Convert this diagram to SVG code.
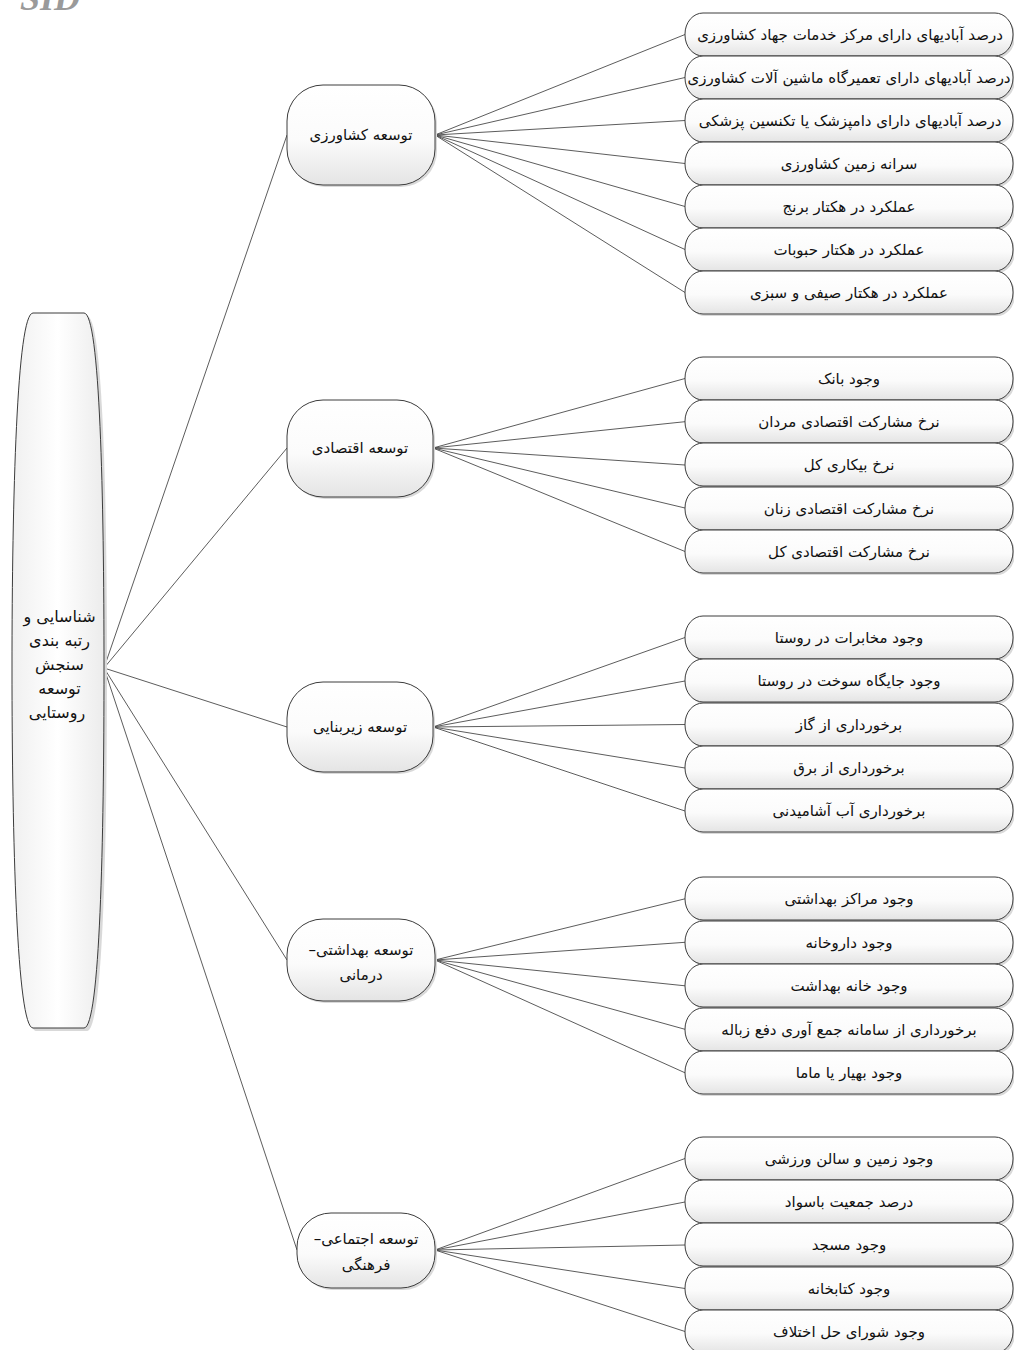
<svg xmlns="http://www.w3.org/2000/svg" width="1014" height="1350" viewBox="0 0 1014 1350">
<defs>
<linearGradient id="g" x1="0" y1="0" x2="0" y2="1">
<stop offset="0" stop-color="#ffffff"/>
<stop offset="0.55" stop-color="#fbfbfb"/>
<stop offset="1" stop-color="#e4e4e4"/>
</linearGradient>
<linearGradient id="gr" x1="0" y1="0" x2="1" y2="0">
<stop offset="0" stop-color="#f0f0f0"/>
<stop offset="0.5" stop-color="#ffffff"/>
<stop offset="1" stop-color="#ececec"/>
</linearGradient>
</defs>
<style>
.box{fill:url(#g);stroke:#3c3c3c;stroke-width:1}
.sh{fill:#d9d9d9;stroke:none}
.t{font-family:'DejaVu Sans',sans-serif;font-size:15px;fill:#111;text-anchor:middle;direction:rtl}
.c{stroke:#4a4a4a;stroke-width:0.9;fill:none}
</style>
<rect width="1014" height="1350" fill="#ffffff"/>
<text x="20" y="10" font-family="'Liberation Serif',serif" font-size="36" font-style="italic" font-weight="bold" fill="#9a9a9a">SID</text>

<g id="connectors">
<g class="c">
<line x1="104" y1="668" x2="287" y2="135"/>
<line x1="104" y1="668" x2="287" y2="448"/>
<line x1="104" y1="668" x2="287" y2="727"/>
<line x1="104" y1="668" x2="287" y2="960"/>
<line x1="104" y1="668" x2="297" y2="1250"/>
<line x1="435" y1="135" x2="685" y2="34.5"/>
<line x1="435" y1="135" x2="685" y2="77.5"/>
<line x1="435" y1="135" x2="685" y2="120.5"/>
<line x1="435" y1="135" x2="685" y2="163.5"/>
<line x1="435" y1="135" x2="685" y2="206.5"/>
<line x1="435" y1="135" x2="685" y2="249.5"/>
<line x1="435" y1="135" x2="685" y2="292.5"/>
<line x1="433" y1="448" x2="685" y2="378.5"/>
<line x1="433" y1="448" x2="685" y2="421.7"/>
<line x1="433" y1="448" x2="685" y2="465"/>
<line x1="433" y1="448" x2="685" y2="508"/>
<line x1="433" y1="448" x2="685" y2="551.5"/>
<line x1="433" y1="727" x2="685" y2="637.5"/>
<line x1="433" y1="727" x2="685" y2="681"/>
<line x1="433" y1="727" x2="685" y2="724.5"/>
<line x1="433" y1="727" x2="685" y2="768"/>
<line x1="433" y1="727" x2="685" y2="811"/>
<line x1="435" y1="960" x2="685" y2="898.8"/>
<line x1="435" y1="960" x2="685" y2="942.3"/>
<line x1="435" y1="960" x2="685" y2="985.8"/>
<line x1="435" y1="960" x2="685" y2="1029.3"/>
<line x1="435" y1="960" x2="685" y2="1072.8"/>
<line x1="435" y1="1250" x2="685" y2="1158.5"/>
<line x1="435" y1="1250" x2="685" y2="1202"/>
<line x1="435" y1="1250" x2="685" y2="1245"/>
<line x1="435" y1="1250" x2="685" y2="1288.5"/>
<line x1="435" y1="1250" x2="685" y2="1331.5"/>
</g>
</g>

<g id="root">
<path class="sh" d="M36,316 H87 C103,316 107,500 107,671 C107,843 103,1031 87,1031 H36 C20,1031 15,843 15,671 C15,500 20,316 36,316 Z"/>
<path class="box" style="fill:url(#gr)" d="M33,313 H84 C100,313 104,497 104,668 C104,840 100,1028 84,1028 H33 C17,1028 12,840 12,668 C12,497 17,313 33,313 Z"/>
<text class="t" style="font-size:16px">
<tspan x="57" y="622">شناسایی و</tspan>
<tspan x="57" y="646">رتبه بندی</tspan>
<tspan x="57" y="670">سنجش</tspan>
<tspan x="57" y="694">توسعه</tspan>
<tspan x="57" y="718">روستایی</tspan>
</text>
</g>

<g id="cat1"><rect class="sh" x="289" y="87" width="148" height="100" rx="36" ry="36"/><rect class="box" x="287" y="85" width="148" height="100" rx="36" ry="36"/><text class="t" x="361" y="140">توسعه کشاورزی</text></g>
<g id="cat2"><rect class="sh" x="289" y="402" width="146" height="97" rx="36" ry="36"/><rect class="box" x="287" y="400" width="146" height="97" rx="36" ry="36"/><text class="t" x="360" y="453">توسعه اقتصادی</text></g>
<g id="cat3"><rect class="sh" x="289" y="684" width="146" height="90" rx="36" ry="36"/><rect class="box" x="287" y="682" width="146" height="90" rx="36" ry="36"/><text class="t" x="360" y="732">توسعه زیربنایی</text></g>
<g id="cat4"><rect class="sh" x="289" y="921" width="148" height="82" rx="36" ry="36"/><rect class="box" x="287" y="919" width="148" height="82" rx="36" ry="36"/><text class="t"><tspan x="361" y="955">توسعه بهداشتی–</tspan><tspan x="361" y="980">درمانی</tspan></text></g>
<g id="cat5"><rect class="sh" x="299" y="1215" width="138" height="75" rx="34" ry="34"/><rect class="box" x="297" y="1213" width="138" height="75" rx="34" ry="34"/><text class="t"><tspan x="366" y="1244">توسعه اجتماعی–</tspan><tspan x="366" y="1270">فرهنگی</tspan></text></g>

<g id="g1">
<g id="l1-1"><rect class="sh" x="687" y="15" width="328" height="43" rx="18" ry="21"/><rect class="box" x="685" y="13" width="328" height="43" rx="18" ry="21"/><text class="t" x="850" y="40">درصد آبادیهای دارای مرکز خدمات جهاد کشاورزی</text></g>
<g id="l1-2"><rect class="sh" x="687" y="58" width="328" height="43" rx="18" ry="21"/><rect class="box" x="685" y="56" width="328" height="43" rx="18" ry="21"/><text class="t" x="849" y="83">درصد آبادیهای دارای تعمیرگاه ماشین آلات کشاورزی</text></g>
<g id="l1-3"><rect class="sh" x="687" y="101" width="328" height="43" rx="18" ry="21"/><rect class="box" x="685" y="99" width="328" height="43" rx="18" ry="21"/><text class="t" x="850" y="126">درصد آبادیهای دارای دامپزشک یا تکنسین پزشکی</text></g>
<g id="l1-4"><rect class="sh" x="687" y="144" width="328" height="43" rx="18" ry="21"/><rect class="box" x="685" y="142" width="328" height="43" rx="18" ry="21"/><text class="t" x="849" y="169">سرانه زمین کشاورزی</text></g>
<g id="l1-5"><rect class="sh" x="687" y="187" width="328" height="43" rx="18" ry="21"/><rect class="box" x="685" y="185" width="328" height="43" rx="18" ry="21"/><text class="t" x="849" y="212">عملکرد در هکتار برنج</text></g>
<g id="l1-6"><rect class="sh" x="687" y="230" width="328" height="43" rx="18" ry="21"/><rect class="box" x="685" y="228" width="328" height="43" rx="18" ry="21"/><text class="t" x="849" y="255">عملکرد در هکتار حبوبات</text></g>
<g id="l1-7"><rect class="sh" x="687" y="273" width="328" height="43" rx="18" ry="21"/><rect class="box" x="685" y="271" width="328" height="43" rx="18" ry="21"/><text class="t" x="849" y="298">عملکرد در هکتار صیفی و سبزی</text></g>
</g>

<g id="g2">
<g id="l2-1"><rect class="sh" x="687" y="359" width="328" height="43" rx="18" ry="21"/><rect class="box" x="685" y="357" width="328" height="43" rx="18" ry="21"/><text class="t" x="849" y="384">وجود بانک</text></g>
<g id="l2-2"><rect class="sh" x="687" y="402" width="328" height="43" rx="18" ry="21"/><rect class="box" x="685" y="400" width="328" height="43" rx="18" ry="21"/><text class="t" x="849" y="427">نرخ مشارکت اقتصادی مردان</text></g>
<g id="l2-3"><rect class="sh" x="687" y="445" width="328" height="43" rx="18" ry="21"/><rect class="box" x="685" y="443" width="328" height="43" rx="18" ry="21"/><text class="t" x="849" y="470">نرخ بیکاری کل</text></g>
<g id="l2-4"><rect class="sh" x="687" y="489" width="328" height="43" rx="18" ry="21"/><rect class="box" x="685" y="487" width="328" height="43" rx="18" ry="21"/><text class="t" x="849" y="514">نرخ مشارکت اقتصادی زنان</text></g>
<g id="l2-5"><rect class="sh" x="687" y="532" width="328" height="43" rx="18" ry="21"/><rect class="box" x="685" y="530" width="328" height="43" rx="18" ry="21"/><text class="t" x="849" y="557">نرخ مشارکت اقتصادی کل</text></g>
</g>

<g id="g3">
<g id="l3-1"><rect class="sh" x="687" y="618" width="328" height="43" rx="18" ry="21"/><rect class="box" x="685" y="616" width="328" height="43" rx="18" ry="21"/><text class="t" x="849" y="643">وجود مخابرات در روستا</text></g>
<g id="l3-2"><rect class="sh" x="687" y="661" width="328" height="43" rx="18" ry="21"/><rect class="box" x="685" y="659" width="328" height="43" rx="18" ry="21"/><text class="t" x="849" y="686">وجود جایگاه سوخت در روستا</text></g>
<g id="l3-3"><rect class="sh" x="687" y="705" width="328" height="43" rx="18" ry="21"/><rect class="box" x="685" y="703" width="328" height="43" rx="18" ry="21"/><text class="t" x="849" y="730">برخورداری از گاز</text></g>
<g id="l3-4"><rect class="sh" x="687" y="748" width="328" height="43" rx="18" ry="21"/><rect class="box" x="685" y="746" width="328" height="43" rx="18" ry="21"/><text class="t" x="849" y="773">برخورداری از برق</text></g>
<g id="l3-5"><rect class="sh" x="687" y="791" width="328" height="43" rx="18" ry="21"/><rect class="box" x="685" y="789" width="328" height="43" rx="18" ry="21"/><text class="t" x="849" y="816">برخورداری آب آشامیدنی</text></g>
</g>

<g id="g4">
<g id="l4-1"><rect class="sh" x="687" y="879" width="328" height="43" rx="18" ry="21"/><rect class="box" x="685" y="877" width="328" height="43" rx="18" ry="21"/><text class="t" x="849" y="904">وجود مراکز بهداشتی</text></g>
<g id="l4-2"><rect class="sh" x="687" y="923" width="328" height="43" rx="18" ry="21"/><rect class="box" x="685" y="921" width="328" height="43" rx="18" ry="21"/><text class="t" x="849" y="948">وجود داروخانه</text></g>
<g id="l4-3"><rect class="sh" x="687" y="966" width="328" height="43" rx="18" ry="21"/><rect class="box" x="685" y="964" width="328" height="43" rx="18" ry="21"/><text class="t" x="849" y="991">وجود خانه بهداشت</text></g>
<g id="l4-4"><rect class="sh" x="687" y="1010" width="328" height="43" rx="18" ry="21"/><rect class="box" x="685" y="1008" width="328" height="43" rx="18" ry="21"/><text class="t" x="849" y="1035">برخورداری از سامانه جمع آوری دفع زباله</text></g>
<g id="l4-5"><rect class="sh" x="687" y="1053" width="328" height="43" rx="18" ry="21"/><rect class="box" x="685" y="1051" width="328" height="43" rx="18" ry="21"/><text class="t" x="849" y="1078">وجود بهیار یا ماما</text></g>
</g>

<g id="g5">
<g id="l5-1"><rect class="sh" x="687" y="1139" width="328" height="43" rx="18" ry="21"/><rect class="box" x="685" y="1137" width="328" height="43" rx="18" ry="21"/><text class="t" x="849" y="1164">وجود زمین و سالن ورزشی</text></g>
<g id="l5-2"><rect class="sh" x="687" y="1182" width="328" height="43" rx="18" ry="21"/><rect class="box" x="685" y="1180" width="328" height="43" rx="18" ry="21"/><text class="t" x="849" y="1207">درصد جمعیت باسواد</text></g>
<g id="l5-3"><rect class="sh" x="687" y="1225" width="328" height="43" rx="18" ry="21"/><rect class="box" x="685" y="1223" width="328" height="43" rx="18" ry="21"/><text class="t" x="849" y="1250">وجود مسجد</text></g>
<g id="l5-4"><rect class="sh" x="687" y="1269" width="328" height="43" rx="18" ry="21"/><rect class="box" x="685" y="1267" width="328" height="43" rx="18" ry="21"/><text class="t" x="849" y="1294">وجود کتابخانه</text></g>
<g id="l5-5"><rect class="sh" x="687" y="1312" width="328" height="43" rx="18" ry="21"/><rect class="box" x="685" y="1310" width="328" height="43" rx="18" ry="21"/><text class="t" x="849" y="1337">وجود شورای حل اختلاف</text></g>
</g>
</svg>
